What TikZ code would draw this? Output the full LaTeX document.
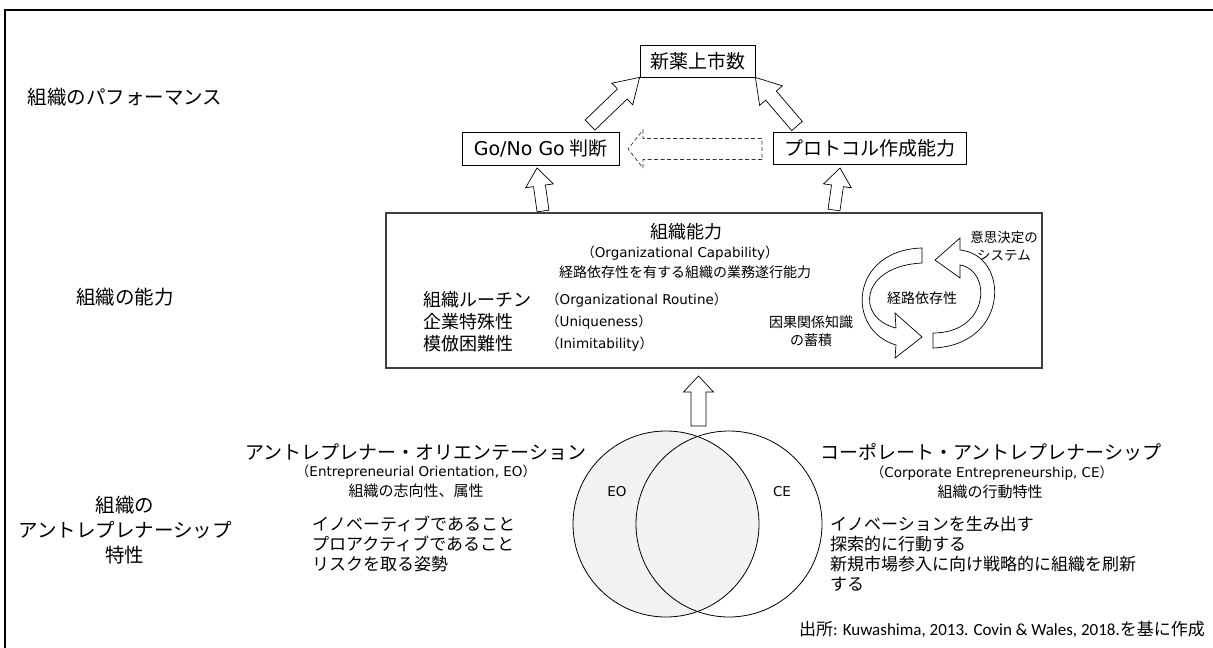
\documentclass[tikz,border=0pt]{standalone}
\usepackage{fontspec}
\setmainfont{Noto Sans CJK JP}
\newfontfamily\en{DejaVu Sans}
\newfontfamily\cb{Carlito}
\usetikzlibrary{calc}
\definecolor{eofill}{HTML}{F2F2F2}
\newcommand\fsz[2]{\fontsize{#1}{#2}\selectfont}
% [style] name, from, to, shaft half width, head half width, head length
\newcommand\blkarrow[7][blk]{%
  \coordinate (#2-hb) at ($(#4)!#7!(#3)$);
  \draw[#1] ($(#3)!#5!90:(#4)$) -- ($(#2-hb)!#5!90:(#4)$) -- ($(#2-hb)!#6!90:(#4)$) -- (#4)
    -- ($(#2-hb)!#6!-90:(#4)$) -- ($(#2-hb)!#5!-90:(#4)$) -- ($(#3)!#5!-90:(#4)$) -- cycle;}
\begin{document}
\begin{tikzpicture}[x=1pt,y=-1pt,
  lbl/.style={inner sep=0pt, align=center},
  box/.style={draw=black, line width=0.8pt, inner sep=0pt},
  capbox/.style={draw=black!75, line width=1.1pt, inner sep=0pt},
  blk/.style={draw=black, fill=white, line width=0.7pt, line join=miter},
  dblk/.style={draw=black!80, fill=white, line width=0.7pt, dash pattern=on 4pt off 2.5pt},
  big/.style={lbl, font=\fsz{19.5}{25}},
  mid/.style={lbl, font=\fsz{15}{18}},
  small/.style={lbl, font=\fsz{14}{18}},
  par/.style={lbl, font=\fsz{13.5}{16}},
  lst/.style={inner sep=0pt, align=left, anchor=west, font=\fsz{17}{20}}
]
\useasboundingbox (0,0) rectangle (1213,648);
\fill[white] (0,0) rectangle (1213,648);
\draw[line width=2pt] (5,648) -- (5,10) -- (1213,10);

% left level labels
\node[big] (perf) at (125,97) {組織のパフォーマンス};
\node[big] (capl) at (125,297) {組織の能力};
\node[big] (entl) at (125,530) {組織の\\アントレプレナーシップ\\特性};

% top boxes
\node[box, minimum width=115pt, minimum height=32pt, font=\fsz{19}{23}] (drug) at (697.5,61) {新薬上市数};
\node[box, minimum width=157pt, minimum height=33pt, font=\fsz{19}{23}] (gng) at (540.5,148.5) {{\en Go/No Go} 判断};
\node[box, minimum width=193pt, minimum height=32pt, font=\fsz{19}{23}] (prot) at (869.5,148) {プロトコル作成能力};

% capability box
\node[capbox, minimum width=656pt, minimum height=155pt] (cap) at (714,290.5) {};
\node[lbl, font=\fsz{18}{22}] (capt) at (686,232) {組織能力};
\node[par] (capp) at (680,253) {（{\en Organizational Capability}）};
\node[lbl, font=\fsz{14}{18}] (capd) at (685,272) {経路依存性を有する組織の業務遂行能力};
\node[lst, font=\fsz{18}{22}] (capj) at (423,322) {組織ルーチン\\企業特殊性\\模倣困難性};
\node[lst, font=\fsz{13.5}{22}] (cape) at (546,322) {（{\en Organizational Routine}）\\（{\en Uniqueness}）\\（{\en Inimitability}）};
\node[small] (causal) at (811,331) {因果関係知識\\の蓄積};
\node[lbl, font=\fsz{13.5}{18}] (decis) at (1004,246) {意思決定の\\システム};

% circular arrows
\draw[blk] (922,263) -- (922,248) .. controls (850,250) and (845,330) .. (896,345)
  -- (895,358) -- (922,337) -- (895,313) -- (896,328) .. controls (855,318) and (860,266) .. (922,263) -- cycle;
\draw[blk] (933,333) -- (933,348) .. controls (1010,345) and (1010,255) .. (960,250)
  -- (960,238) -- (935,260) -- (960,278) -- (960,265) .. controls (992,270) and (990,333) .. (933,333) -- cycle;
\node[small] (path) at (922,298) {経路依存性};

% block arrows
\coordinate (a1s) at (590,125); \coordinate (a1e) at (drug.south west);
\coordinate (a2s) at (797,126); \coordinate (a2e) at (drug.south east);
\coordinate (a3s) at (543,211); \coordinate (a3e) at (537,168);
\coordinate (a4s) at (834,210); \coordinate (a4e) at (840,168);
\coordinate (a5s) at (698.5,426); \coordinate (a5e) at (698.5,376);
\coordinate (a6s) at (762,149); \coordinate (a6e) at (628,149);
\blkarrow{ba1}{a1s}{a1e}{7pt}{15pt}{24pt}
\blkarrow{ba2}{a2s}{a2e}{7pt}{15pt}{24pt}
\blkarrow{ba3}{a3s}{a3e}{6pt}{14pt}{18pt}
\blkarrow{ba4}{a4s}{a4e}{6pt}{14pt}{18pt}
\blkarrow{ba5}{a5s}{a5e}{7.5pt}{15pt}{16pt}
\blkarrow[dblk]{ba6}{a6s}{a6e}{10.5pt}{19pt}{15pt}

% Venn
\draw[fill=eofill, line width=0.8pt] (666,524) circle[radius=93pt];
\draw[line width=0.8pt] (729,524) circle[radius=93pt];
\node[par] (eo) at (617,492) {\en EO};
\node[par] (ce) at (782,492) {\en CE};

% EO block
\node[lbl, font=\fsz{19}{23}] (eot) at (416,452) {アントレプレナー・オリエンテーション};
\node[par] (eop) at (416,472) {（{\en Entrepreneurial Orientation, EO}）};
\node[mid] (eoa) at (416,491) {組織の志向性、属性};
\node[lst] (eol) at (312,544) {イノベーティブであること\\プロアクティブであること\\リスクを取る姿勢};

% CE block
\node[lbl, font=\fsz{19}{23}] (cet) at (991,452) {コーポレート・アントレプレナーシップ};
\node[par] (cep) at (992,473) {（{\en Corporate Entrepreneurship, CE}）};
\node[mid] (cea) at (990,492) {組織の行動特性};
\node[lst] (cel) at (830,554) {イノベーションを生み出す\\探索的に行動する\\新規市場参入に向け戦略的に組織を刷新\\する};

% source
\node[inner sep=0pt, anchor=east, font=\fsz{17}{20}] (src) at (1205,629) {出所{\cb : Kuwashima, 2013. Covin \& Wales, 2018.}を基に作成};
\end{tikzpicture}
\end{document}
